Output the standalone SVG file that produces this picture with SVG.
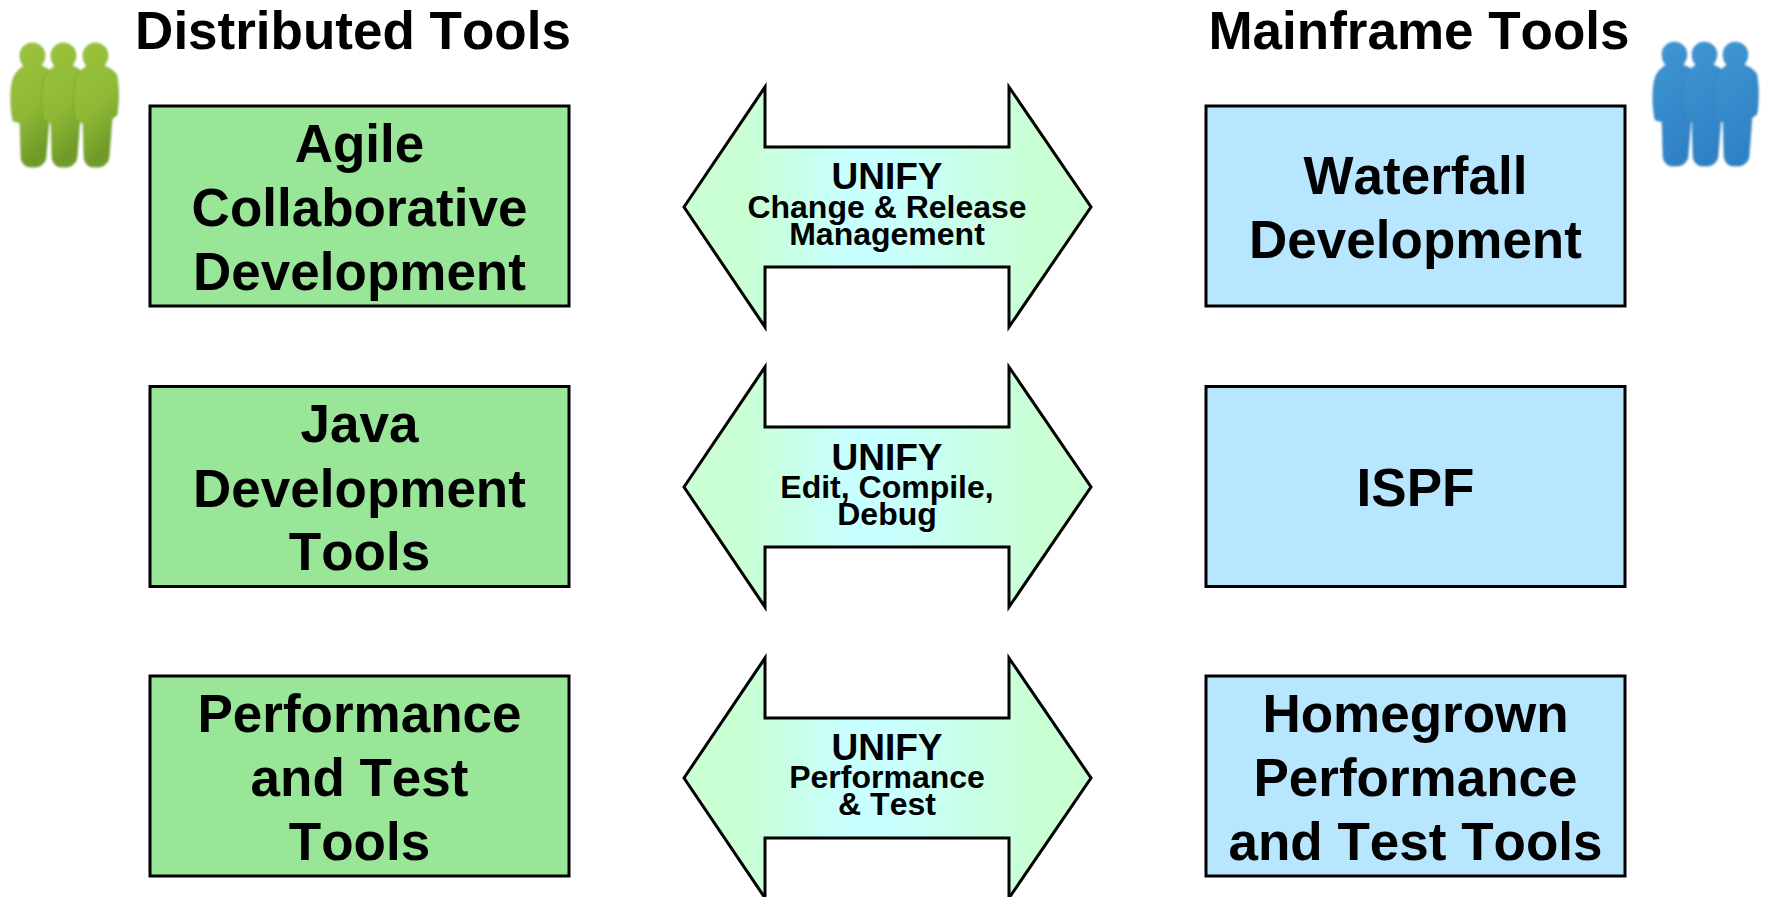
<svg xmlns="http://www.w3.org/2000/svg" width="1766" height="897" viewBox="0 0 1766 897">
<defs>
<linearGradient id="arrowFill" x1="0" x2="1" y1="0" y2="0">
<stop offset="0" stop-color="#c9ffd2"/><stop offset="0.14" stop-color="#c9ffd2"/><stop offset="0.4" stop-color="#c8ffff"/><stop offset="0.5" stop-color="#c8ffff"/><stop offset="0.72" stop-color="#c9ffe6"/><stop offset="0.88" stop-color="#c9ffd2"/><stop offset="1" stop-color="#c9ffd2"/>
</linearGradient>
<linearGradient id="greenFill" x1="0" x2="0.3" y1="0" y2="1"><stop offset="0" stop-color="#9cc43c"/><stop offset="0.6" stop-color="#8fb935"/><stop offset="1" stop-color="#6f9a28"/></linearGradient>
<linearGradient id="blueFill" x1="0" x2="0.3" y1="0" y2="1"><stop offset="0" stop-color="#3f97d4"/><stop offset="1" stop-color="#2f82c4"/></linearGradient>
<filter id="soft" x="-10%" y="-10%" width="120%" height="120%"><feGaussianBlur stdDeviation="1"/></filter>
<path id="person" d="M33 0C41 0 46 6 46 12C46 17 44 20 42 23C48 25 53 28 55 33C57 45 57 60 55 72L50 76L49 90L47 115C46 121 40 125 34 124C27 125 23 121 22 115L21 80L14 78C11 65 11 45 14 36C16 30 20 26 25 23C22 20 21 17 21 12C21 6 26 0 33 0Z"/>
<path id="arrow" d="M684 0L765-120V-60H1009V-120L1091 0L1009 120V60H765V120Z"/>
</defs>
<style>
text{font-family:"Liberation Sans",Arial,sans-serif;font-weight:700;fill:#000;text-anchor:middle;font-kerning:none}
.head{font-size:53px}
.box{font-size:53px}
.u{font-size:37px}
.s{font-size:32px}
.g{fill:#99e699;stroke:#000;stroke-width:3}
.b{fill:#b9e6ff;stroke:#000;stroke-width:3}
.a{fill:url(#arrowFill);stroke:#000;stroke-width:3}
.p{stroke-width:1;stroke-opacity:.45}
</style>
<g id="connectors">
<g id="arrow-1"><use href="#arrow" y="207" class="a"/><text x="887" y="189" class="u">UNIFY</text><text x="887" y="218" class="s">Change &amp; Release</text><text x="887" y="245" class="s">Management</text></g>
<g id="arrow-2"><use href="#arrow" y="487" class="a"/><text x="887" y="470" class="u">UNIFY</text><text x="887" y="498" class="s">Edit, Compile,</text><text x="887" y="525" class="s">Debug</text></g>
<g id="arrow-3"><use href="#arrow" y="778" class="a"/><text x="887" y="760" class="u">UNIFY</text><text x="887" y="788" class="s">Performance</text><text x="887" y="815" class="s">&amp; Test</text></g>
</g>
<g id="heading-left"><text x="353" y="49" class="head">Distributed Tools</text></g>
<g id="heading-right"><text x="1419" y="49" class="head">Mainframe Tools</text></g>
<g id="people-green" class="p" fill="url(#greenFill)" stroke="#5f8a20" filter="url(#soft)"><use href="#person" x="-1" y="43"/><use href="#person" x="30" y="43"/><use href="#person" x="62" y="43"/></g>
<g id="people-blue" class="p" fill="url(#blueFill)" stroke="#2a74b0" filter="url(#soft)"><use href="#person" x="1641" y="42"/><use href="#person" x="1671" y="42"/><use href="#person" x="1702" y="42"/></g>
<g id="box-agile"><rect x="150" y="106" width="419" height="200" class="g"/><text x="359.500" y="162" class="box">Agile</text><text x="359.500" y="226" class="box">Collaborative</text><text x="359.500" y="290" class="box">Development</text></g>
<g id="box-java"><rect x="150" y="386.500" width="419" height="200" class="g"/><text x="359.500" y="442" class="box">Java</text><text x="359.500" y="507" class="box">Development</text><text x="359.500" y="570" class="box">Tools</text></g>
<g id="box-perf"><rect x="150" y="676" width="419" height="200" class="g"/><text x="359.500" y="732" class="box">Performance</text><text x="359.500" y="796" class="box">and Test</text><text x="359.500" y="860" class="box">Tools</text></g>
<g id="box-waterfall"><rect x="1206" y="106" width="419" height="200" class="b"/><text x="1415.500" y="194" class="box">Waterfall</text><text x="1415.500" y="258" class="box">Development</text></g>
<g id="box-ispf"><rect x="1206" y="386.500" width="419" height="200" class="b"/><text x="1415.500" y="506" class="box">ISPF</text></g>
<g id="box-homegrown"><rect x="1206" y="676" width="419" height="200" class="b"/><text x="1415.500" y="732" class="box">Homegrown</text><text x="1415.500" y="796" class="box">Performance</text><text x="1415.500" y="860" class="box">and Test Tools</text></g>
</svg>
